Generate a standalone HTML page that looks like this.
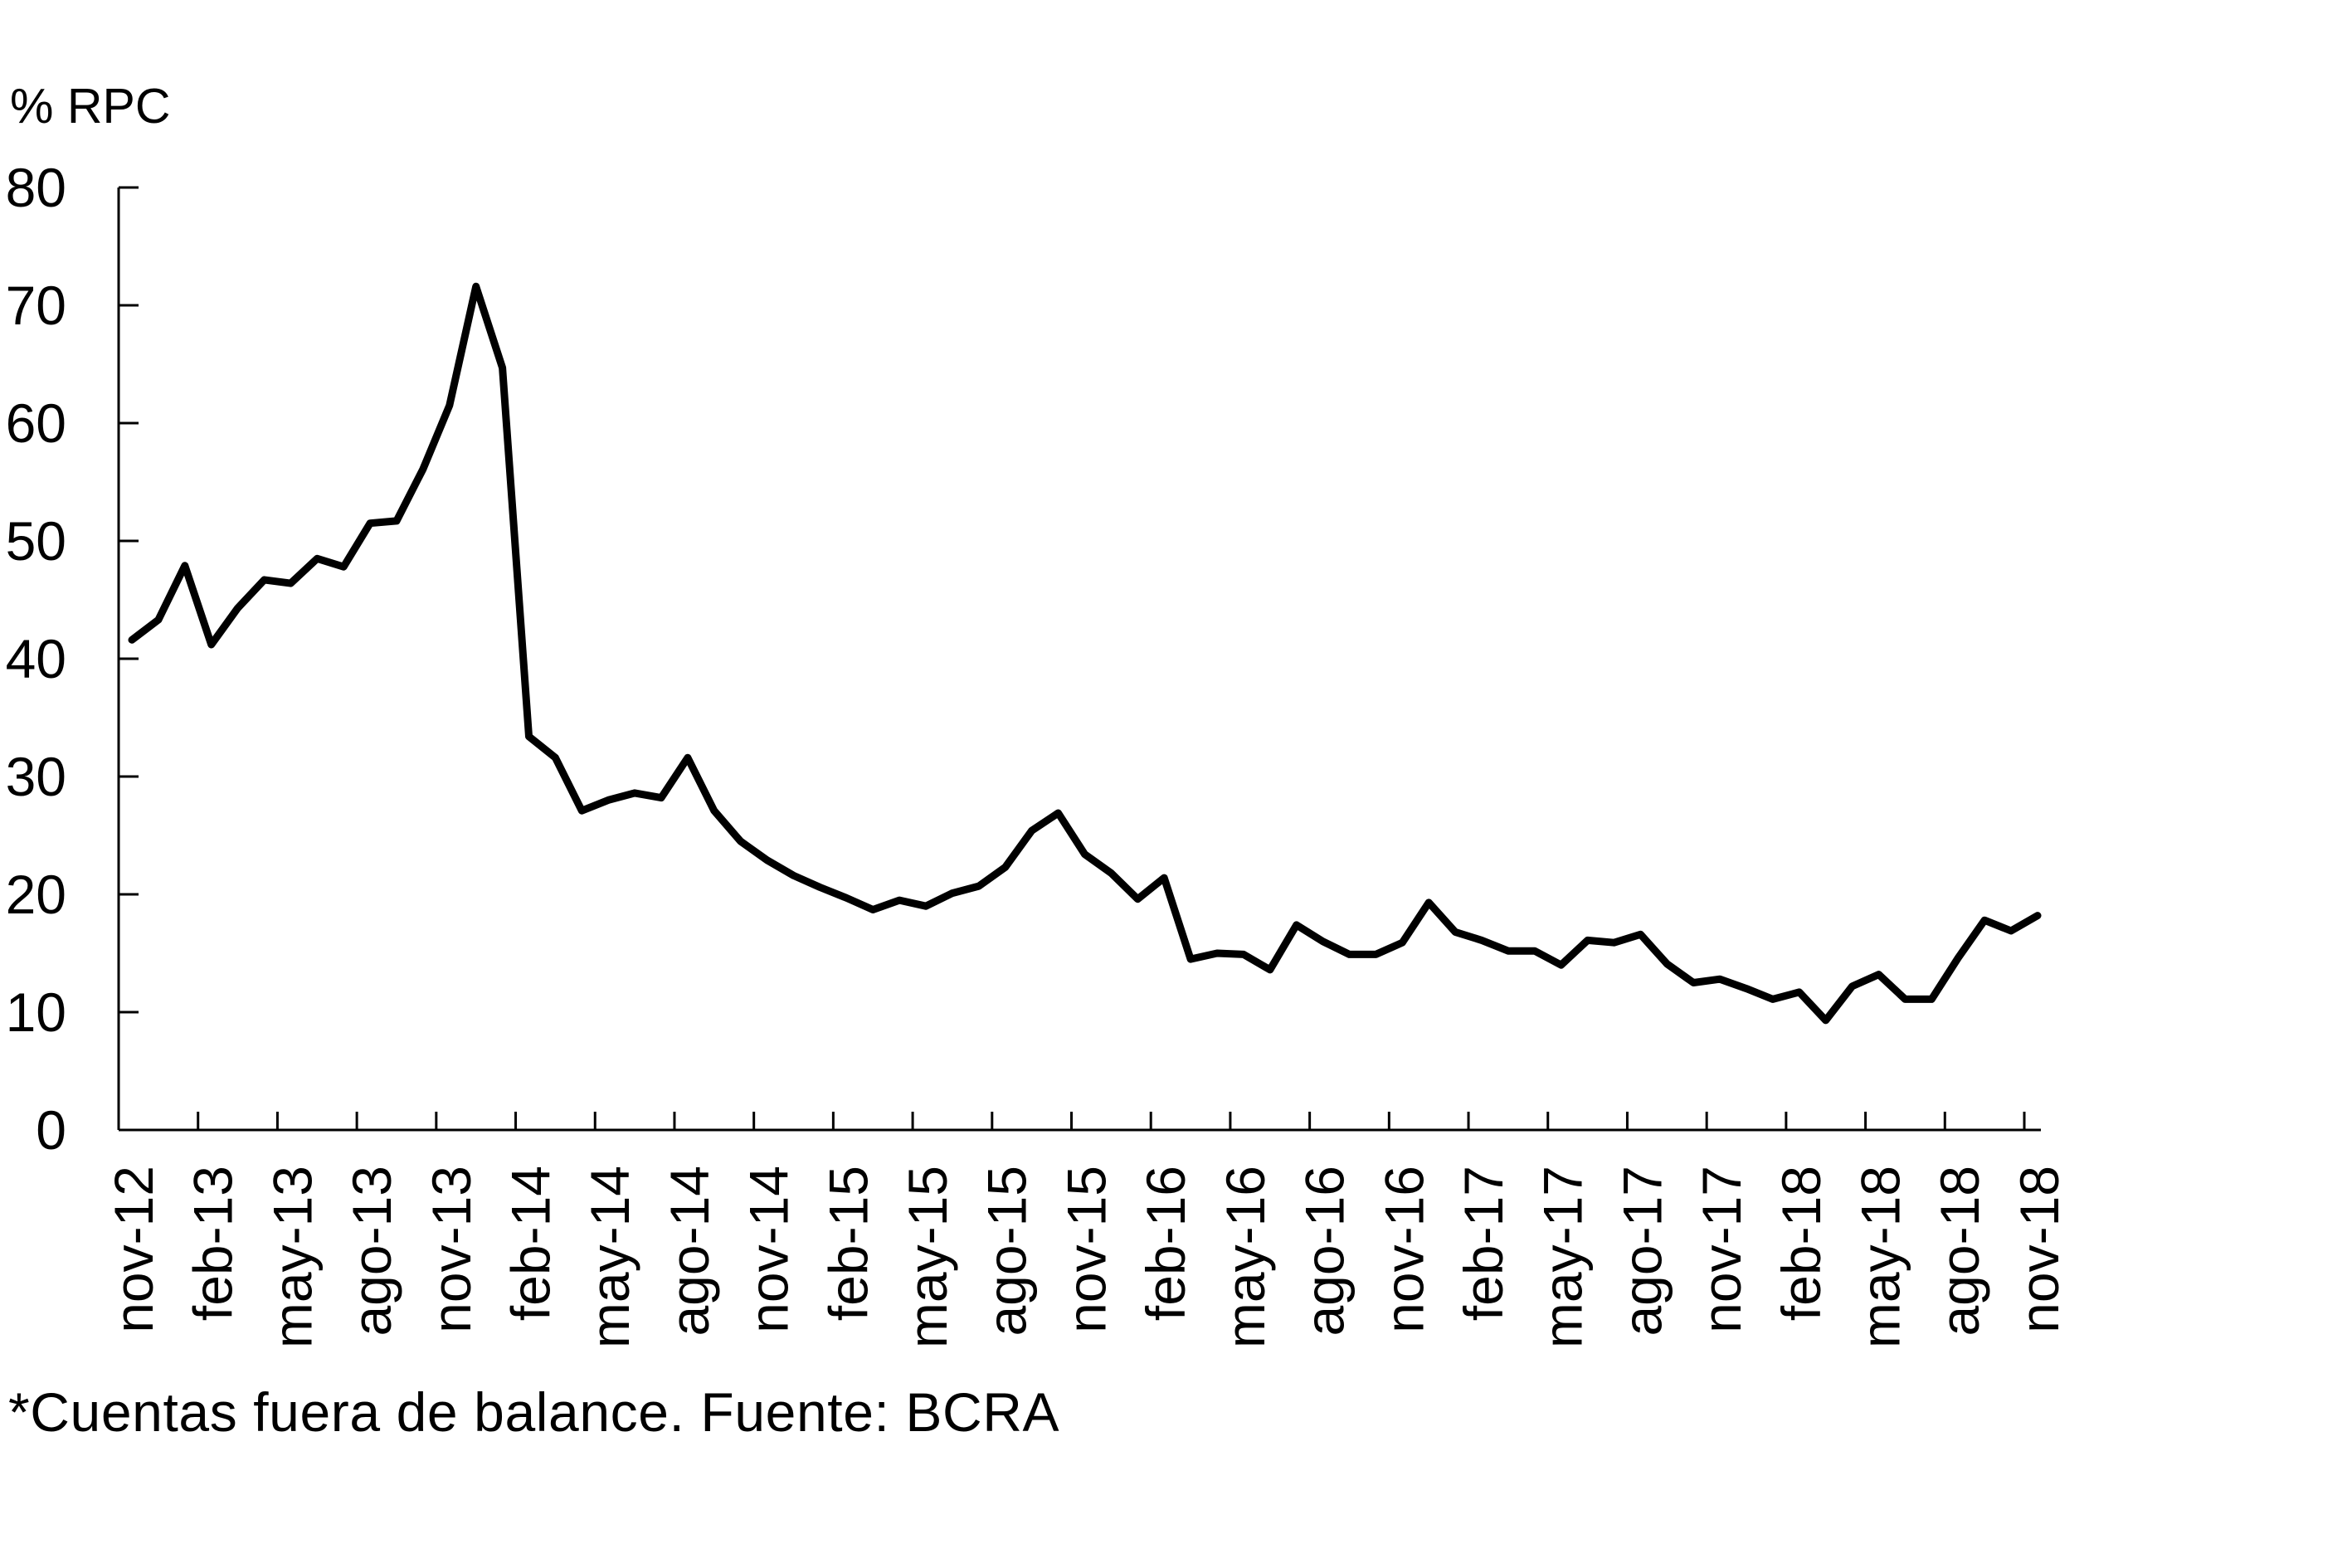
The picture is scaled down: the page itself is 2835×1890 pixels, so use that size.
<!DOCTYPE html>
<html><head><meta charset="utf-8"><style>
html,body{margin:0;padding:0;background:#fff;}
svg{display:block;font-family:"Liberation Sans",Arial,sans-serif;}
</style></head><body>
<svg id="chart" width="2835" height="1890" viewBox="0 0 2835 1890" xmlns="http://www.w3.org/2000/svg">
<text x="12" y="148" font-size="59" fill="#000">% RPC</text>
<g id="yaxis"></g>
<g id="xaxis"></g>
<g id="series"></g>
<text x="10" y="1725" font-size="66" letter-spacing="0.6" fill="#000">*Cuentas fuera de balance. Fuente: BCRA</text>
</svg>
<script>
const yTicks = [0,10,20,30,40,50,60,70,80];
const xLabels = ["nov-12","feb-13","may-13","ago-13","nov-13","feb-14","may-14","ago-14","nov-14","feb-15","may-15","ago-15","nov-15","feb-16","may-16","ago-16","nov-16","feb-17","may-17","ago-17","nov-17","feb-18","may-18","ago-18","nov-18"];
const values = [41.6,43.3,47.9,41.2,44.3,46.7,46.4,48.5,47.8,51.5,51.7,56.1,61.5,71.6,64.7,33.4,31.6,27.1,28.0,28.6,28.2,31.6,27.1,24.5,22.9,21.6,20.6,19.7,18.7,19.5,19.0,20.1,20.7,22.3,25.4,26.9,23.4,21.8,19.6,21.4,14.5,15.0,14.9,13.6,17.4,16.0,14.9,14.9,15.9,19.3,16.8,16.1,15.2,15.2,14.0,16.1,15.9,16.6,14.1,12.5,12.8,12.0,11.1,11.7,9.3,12.2,13.2,11.1,11.1,14.6,17.8,16.9,18.2];

const NS="http://www.w3.org/2000/svg";
const left=143, right=2460, y0=1362, y80=226;
const n=values.length;
const mw=(2440-left)/72;
function yS(v){return y0-(v/80)*(y0-y80);}
function xB(i){return left+mw*i;}
function xC(i){return left+mw*(i+0.5);}
function mk(tag,attrs,parent){const e=document.createElementNS(NS,tag);for(const k in attrs)e.setAttribute(k,attrs[k]);parent.appendChild(e);return e;}

const ya=document.getElementById('yaxis');
const ax=mk('line',{x1:left,y1:y80,x2:left,y2:y0,stroke:'#000','stroke-width':3},ya);


yTicks.forEach(t=>{
  const tk=mk('line',{x1:left,y1:yS(t),x2:left+24,y2:yS(t),stroke:'#000','stroke-width':3},ya);
  
  
  const lb=mk('text',{x:80,y:yS(t)+23,'font-size':66,'text-anchor':'end',fill:'#000'},ya);
  lb.textContent=t;
  
  
});

const xa=document.getElementById('xaxis');
const xl=mk('line',{x1:left,y1:y0,x2:right,y2:y0,stroke:'#000','stroke-width':3},xa);


xLabels.forEach((lab,k)=>{
  const i=k*3;
  if(k>0){
    const tk=mk('line',{x1:xB(i),y1:y0,x2:xB(i),y2:y0-22,stroke:'#000','stroke-width':3},xa);
    
    
  }
  const cx=xC(i)+25, cy=1405;
  const t=mk('text',{x:cx,y:cy,'font-size':66,'text-anchor':'end',fill:'#000',transform:`rotate(-90 ${cx} ${cy})`},xa);
  t.textContent=lab;
  
  
});

const sg=document.getElementById('series');
const pts=values.map((v,i)=>xC(i).toFixed(1)+','+yS(v).toFixed(1)).join(' ');
const pl=mk('polyline',{points:pts,fill:'none',stroke:'#000','stroke-width':9,'stroke-linejoin':'round','stroke-linecap':'round'},sg);


</script>
</body></html>
